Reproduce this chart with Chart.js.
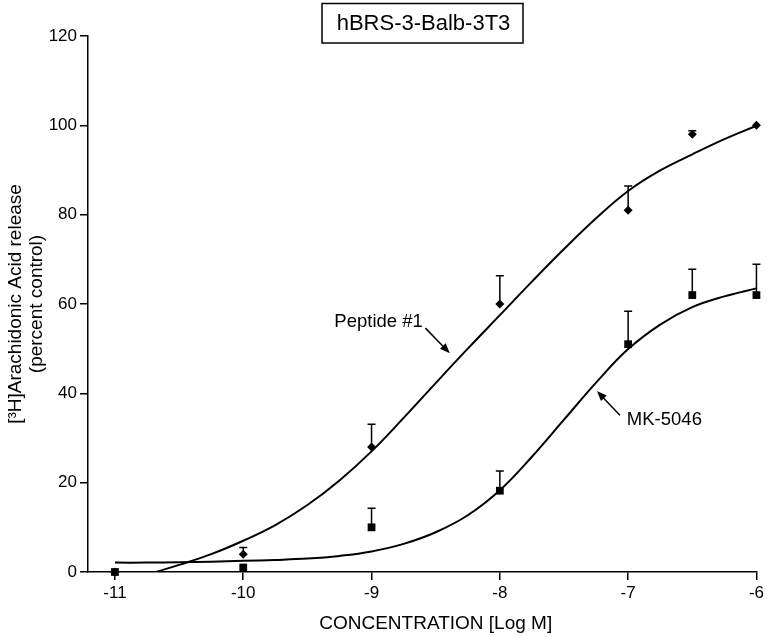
<!DOCTYPE html>
<html lang="en">
<head>
    <meta charset="UTF-8">
    <title>hBRS-3-Balb-3T3</title>
    <style>
        body {
            margin: 0;
            background: #fff;
        }

        #wrap {
            width: 767px;
            height: 637px;
        }
    </style>
</head>
<body>
    <div id="wrap"><canvas id="chart"></canvas></div>

    <script src="https://cdn.jsdelivr.net/npm/chart.js"></script>

    <script>
        // measured points (log M) with upward error bars
        const concentrations = [-11, -10, -9, -8, -7, -6.5, -6];
        const peptideMean = [0, 4, 28, 60, 81, 98, 100];
        const peptideErr = [0, 1.5, 5.1, 6.3, 5.4, 0.8, 0];
        const mkMean = [0, 1, 10, 18.2, 51, 62, 62];
        const mkErr = [0, 0, 4.3, 4.4, 7.4, 5.8, 6.9];

        // fitted curves
        const peptideCurveX = [-10.68, -10.5, -10.25, -10, -9.75, -9.5, -9.25, -9, -8.75, -8.5,
            -8.25, -8, -7.75, -7.5, -7.25, -7, -6.75, -6.5, -6.25, -6];
        const peptideCurve = [0, 1.6, 4.0, 7.0, 10.5, 15.0, 20.5, 27.0, 34.5, 42.3,
            50.0, 57.5, 65.0, 72.3, 79.2, 85.3, 89.9, 93.5, 96.9, 99.9];
        const mkCurveX = [-11, -10.75, -10.5, -10.25, -10, -9.75, -9.5, -9.25, -9, -8.75, -8.5,
            -8.25, -8, -7.75, -7.5, -7.25, -7, -6.75, -6.5, -6.25, -6];
        const mkCurve = [2.1, 2.1, 2.2, 2.3, 2.5, 2.7, 3.0, 3.6, 4.6, 6.3, 8.9,
            12.7, 18.3, 25.8, 34.1, 42.4, 49.9, 55.4, 59.3, 61.7, 63.5];

        const xTicks = [-11, -10, -9, -8, -7, -6];
        const yTicks = [0, 20, 40, 60, 80, 100, 120];

        const FONT = '"Liberation Sans", Arial, sans-serif';

        const toPoints = (xs, ys) => xs.map((v, i) => ({ x: v, y: ys[i] }));

        // error bars (up only)
        const errorBars = {
            id: 'errorBars',
            afterDatasetsDraw(chart) {
                const { ctx, scales: { x, y } } = chart;
                ctx.save();
                ctx.strokeStyle = '#000';
                ctx.lineWidth = 1.5;
                [[peptideMean, peptideErr], [mkMean, mkErr]].forEach(([m, e]) => {
                    concentrations.forEach((c, i) => {
                        if (!e[i]) return;
                        const px = x.getPixelForValue(c);
                        const y0 = y.getPixelForValue(m[i]);
                        const y1 = y.getPixelForValue(m[i] + e[i]);
                        ctx.beginPath();
                        ctx.moveTo(px, y0);
                        ctx.lineTo(px, y1);
                        ctx.moveTo(px - 4, y1);
                        ctx.lineTo(px + 4, y1);
                        ctx.stroke();
                    });
                });
                ctx.restore();
            }
        };

        // labels with arrows, x title, boxed title
        const labels = [
            { text: 'Peptide #1', at: [-9.29, 56], from: [-8.58, 54.6], to: [-8.39, 49.0] },
            { text: 'MK-5046', at: [-7.01, 34.0], from: [-7.064, 35.1], to: [-7.243, 40.5] }
        ];

        const decorations = {
            id: 'decorations',
            afterDraw(chart) {
                const { ctx, scales: { x, y } } = chart;
                ctx.save();
                ctx.fillStyle = '#000';
                ctx.strokeStyle = '#000';

                ctx.font = '18.5px ' + FONT;
                ctx.textBaseline = 'middle';
                ctx.textAlign = 'left';
                labels.forEach(l => {
                    ctx.fillText(l.text, x.getPixelForValue(l.at[0]), y.getPixelForValue(l.at[1]));
                    const x0 = x.getPixelForValue(l.from[0]), y0 = y.getPixelForValue(l.from[1]);
                    const x1 = x.getPixelForValue(l.to[0]), y1 = y.getPixelForValue(l.to[1]);
                    const a = Math.atan2(y1 - y0, x1 - x0);
                    ctx.lineWidth = 1.5;
                    ctx.beginPath();
                    ctx.moveTo(x0, y0);
                    ctx.lineTo(x1 - 8 * Math.cos(a), y1 - 8 * Math.sin(a));
                    ctx.stroke();
                    ctx.beginPath();
                    ctx.moveTo(x1, y1);
                    ctx.lineTo(x1 - 10 * Math.cos(a) + 4 * Math.sin(a), y1 - 10 * Math.sin(a) - 4 * Math.cos(a));
                    ctx.lineTo(x1 - 10 * Math.cos(a) - 4 * Math.sin(a), y1 - 10 * Math.sin(a) + 4 * Math.cos(a));
                    ctx.closePath();
                    ctx.fill();
                });

                // x axis title, centred under the -11..-6 span
                ctx.font = '19px ' + FONT;
                ctx.textAlign = 'center';
                ctx.fillText('CONCENTRATION [Log M]', x.getPixelForValue(-8.5), 624);

                // boxed title
                ctx.lineWidth = 1.5;
                ctx.strokeRect(322, 3.5, 201, 39.5);
                ctx.font = '22px ' + FONT;
                ctx.fillText('hBRS-3-Balb-3T3', 423.5, 24);
                ctx.restore();
            }
        };

        const ctx = document.getElementById('chart').getContext('2d');
        new Chart(ctx, {
            type: 'line',
            data: {
                datasets: [
                    {
                        data: toPoints(peptideCurveX, peptideCurve),
                        borderColor: '#000',
                        borderWidth: 2,
                        pointRadius: 0,
                        tension: 0.4
                    },
                    {
                        data: toPoints(mkCurveX, mkCurve),
                        borderColor: '#000',
                        borderWidth: 2,
                        pointRadius: 0,
                        tension: 0.4
                    },
                    {
                        data: toPoints(concentrations, peptideMean),
                        showLine: false,
                        clip: false,
                        pointStyle: 'rectRot',
                        pointRadius: 4.5,
                        backgroundColor: '#000',
                        borderColor: '#000',
                        borderWidth: 0
                    },
                    {
                        data: toPoints(concentrations, mkMean),
                        showLine: false,
                        clip: false,
                        pointStyle: 'rect',
                        pointRadius: 5.5,
                        backgroundColor: '#000',
                        borderColor: '#000',
                        borderWidth: 0
                    }
                ]
            },
            options: {
                responsive: true,
                maintainAspectRatio: false,
                animation: false,
                layout: { padding: { top: 36, right: 10 } },
                plugins: {
                    legend: { display: false },
                    tooltip: { enabled: false }
                },
                scales: {
                    x: {
                        type: 'linear',
                        min: -11.21,
                        max: -6,
                        afterBuildTicks: s => { s.ticks = xTicks.map(v => ({ value: v })); },
                        afterFit: s => { s.height = 65; },
                        grid: { drawOnChartArea: false, tickLength: 8, color: '#000', lineWidth: 1.5 },
                        border: { color: '#000', width: 1.5 },
                        ticks: { color: '#000', padding: 3, font: { family: FONT, size: 17 } }
                    },
                    y: {
                        min: 0,
                        max: 120,
                        afterBuildTicks: s => { s.ticks = yTicks.map(v => ({ value: v })); },
                        afterFit: s => { s.width = 88; },
                        grid: { drawOnChartArea: false, tickLength: 8, color: '#000', lineWidth: 1.5 },
                        border: { color: '#000', width: 1.5 },
                        ticks: { color: '#000', padding: 3, font: { family: FONT, size: 17 } },
                        title: {
                            display: true,
                            text: ['[³H]Arachidonic Acid release', '(percent control)'],
                            color: '#000',
                            padding: { top: 5, bottom: 0 },
                            font: { family: FONT, size: 19, lineHeight: 1.1 }
                        }
                    }
                }
            },
            plugins: [errorBars, decorations]
        });
    </script>
</body>
</html>
